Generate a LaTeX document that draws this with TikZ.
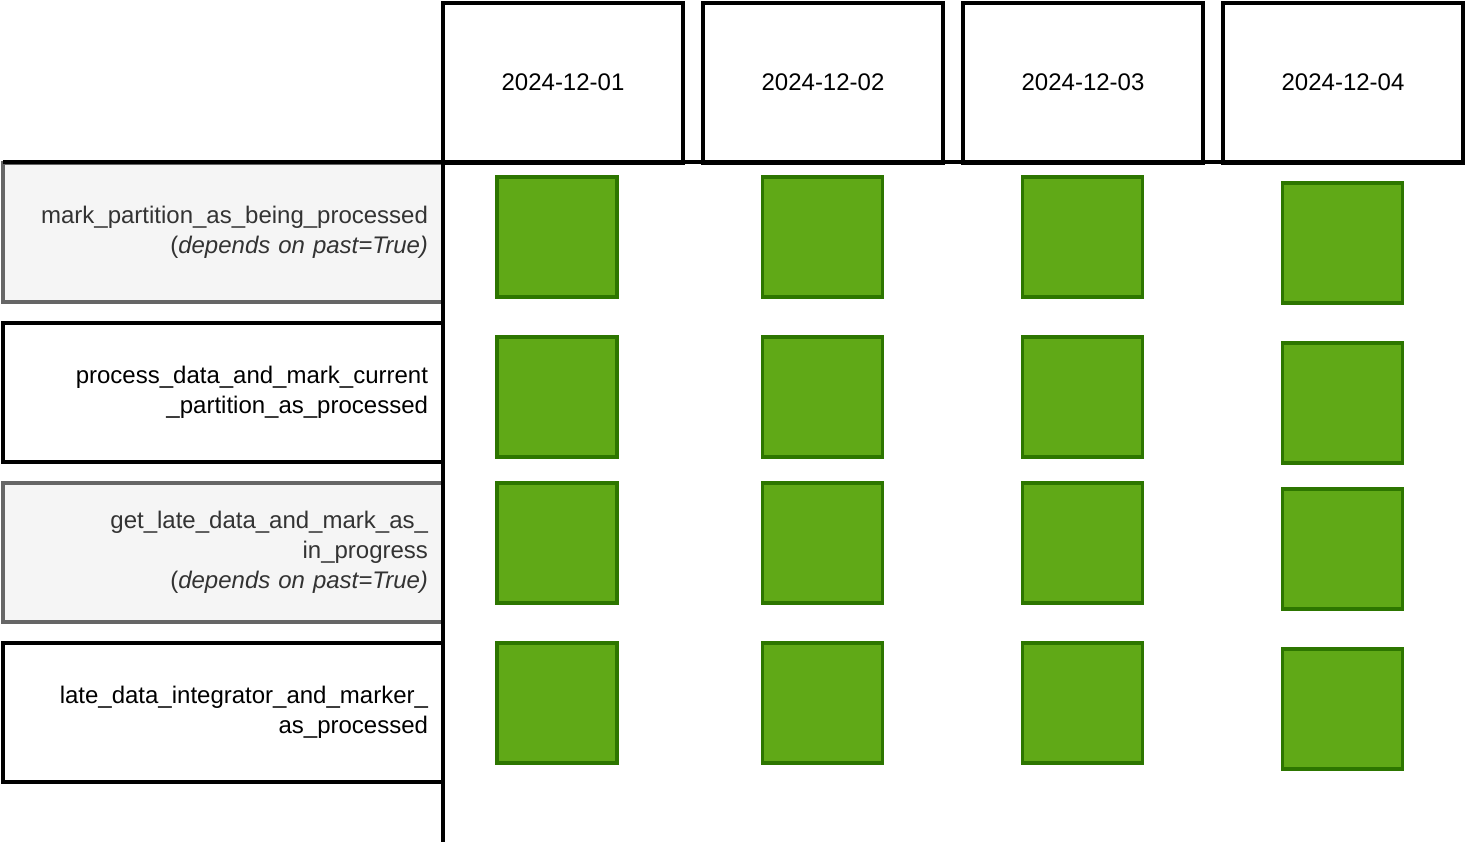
\documentclass[tikz,border=0pt]{standalone}
\usepackage{fontspec}
\setmainfont{Liberation Sans}
\definecolor{taskfill}{HTML}{F5F5F5}
\definecolor{taskdraw}{HTML}{666666}
\definecolor{tasktext}{HTML}{333333}
\definecolor{runfill}{HTML}{60A917}
\definecolor{rundraw}{HTML}{2D7600}
\begin{document}
\begin{tikzpicture}[x=1pt,y=-1pt,
  every node/.style={font=\fontsize{24}{30}\selectfont},
  datebox/.style={draw=black,line width=3.5pt,minimum width=240pt,minimum height=160pt,inner sep=0pt},
  taskbox/.style={line width=3.5pt,minimum height=139pt,text width=410pt,inner xsep=15pt,inner ysep=0pt,align=right},
  pastbox/.style={taskbox,draw=taskdraw,fill=taskfill,text=tasktext},
  plainbox/.style={taskbox,draw=black,fill=white,text=black},
  run/.style={draw=rundraw,fill=runfill,line width=3.5pt,minimum width=120pt,minimum height=120pt,inner sep=0pt},
  grid/.style={draw=black,line width=3.5pt}]
\useasboundingbox (0,0) rectangle (1466,846);

% date column headers
\node[datebox] (d1) at (563,83) {\raisebox{2pt}{2024-12-01}};
\node[datebox] (d2) at (823,83) {\raisebox{2pt}{2024-12-02}};
\node[datebox] (d3) at (1083,83) {\raisebox{2pt}{2024-12-03}};
\node[datebox] (d4) at (1343,83) {\raisebox{2pt}{2024-12-04}};

% task rows
\node[pastbox]  (t1) at (223,232.5) {mark\_partition\_as\_being\_processed\\(\textit{depends on past=True)}};
\node[plainbox] (t2) at (223,392.5) {process\_data\_and\_mark\_current\\\_partition\_as\_processed};
\node[pastbox]  (t3) at (223,552.5) {get\_late\_data\_and\_mark\_as\_\\in\_progress\\(\textit{depends on past=True)}};
\node[plainbox] (t4) at (223,712.5) {late\_data\_integrator\_and\_marker\_\\as\_processed};

% task runs per date
\foreach \r/\y in {1/237,2/397,3/543,4/703}{
  \node[run] (r\r c1) at (557,\y) {};
  \node[run] (r\r c2) at (822.5,\y) {};
  \node[run] (r\r c3) at (1082.5,\y) {};
  \node[run] (r\r c4) at (1342.5,\y+6) {};
}

% grid axes
\coordinate (hl) at (3,162);
\coordinate (hr) at (1463,162);
\coordinate (vt) at (443,162);
\coordinate (vb) at (443,842);
\draw[grid] (hl) -- (hr);
\draw[grid] (vt) -- (vb);
\end{tikzpicture}
\end{document}
